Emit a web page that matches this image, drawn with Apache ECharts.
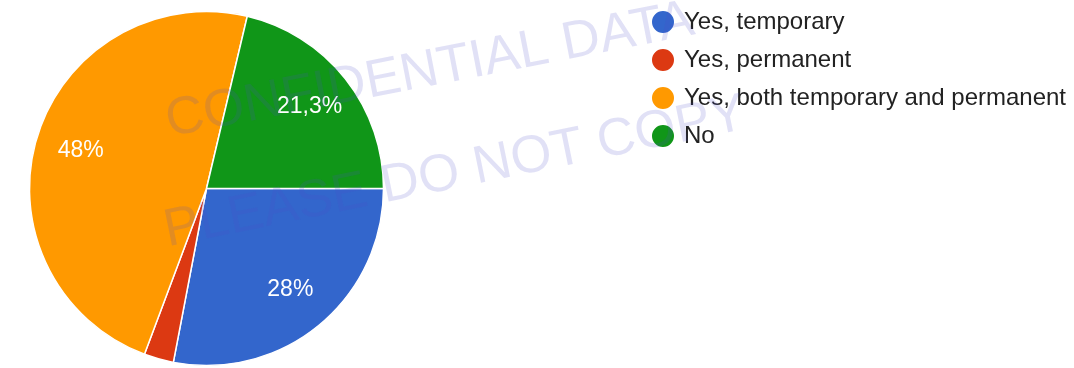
<!DOCTYPE html>
<html>
<head>
<meta charset="utf-8">
<script src="https://cdn.jsdelivr.net/npm/echarts@6/dist/echarts.min.js"></script>
<style>
html,body{margin:0;padding:0;background:#fff;}
#chart{width:1074px;height:368px;}
</style>
</head>
<body>
<div id="chart"></div>
<script>
const categories = ['Yes, temporary', 'Yes, permanent', 'Yes, both temporary and permanent', 'No'];
const values = [28, 2.7, 48, 21.3];
const showLabel = [true, false, true, true];
const colors = ['#3366cc', '#dc3912', '#ff9900', '#109618'];
const watermarkLines = ['CONFIDENTIAL DATA', 'PLEASE DO NOT COPY'];

const FONT = '"Liberation Sans", Arial, Helvetica, sans-serif';
const chart = echarts.init(document.getElementById('chart'), null, {renderer: 'canvas'});

const mainData = categories.map((c, i) => ({name: c, value: values[i], itemStyle: {color: colors[i]}}));
const labelData = categories.map((c, i) => ({name: c, value: values[i], label: {show: showLabel[i]}}));

const option = {
  animation: false,
  legend: {
    orient: 'vertical',
    left: 650,
    top: 9,
    padding: 0,
    icon: 'circle',
    itemWidth: 32,
    itemHeight: 24,
    itemGap: 12,
    selectedMode: false,
    data: categories,
    textStyle: {fontFamily: FONT, fontSize: 24, color: '#222222'}
  },
  series: [
    {
      type: 'pie',
      center: [206.5, 188.5],
      radius: [0, 177],
      startAngle: 0,
      clockwise: true,
      silent: true,
      label: {show: false},
      labelLine: {show: false},
      itemStyle: {borderColor: '#ffffff', borderWidth: 1.5},
      data: mainData,
      z: 2
    },
    {
      type: 'pie',
      center: [206.5, 188.5],
      radius: [80, 177],
      startAngle: 0,
      clockwise: true,
      silent: true,
      itemStyle: {color: 'rgba(0,0,0,0)', borderWidth: 0},
      label: {
        show: true,
        position: 'inside',
        color: '#ffffff',
        fontFamily: FONT,
        fontSize: 23,
        formatter: p => String(p.value).replace('.', ',') + '%'
      },
      labelLine: {show: false},
      data: labelData,
      z: 3
    }
  ],
  graphic: [
    {
      type: 'text',
      x: 430, y: 71,
      rotation: 11 * Math.PI / 180,
      z: 100,
      silent: true,
      style: {
        text: watermarkLines[0],
        fontFamily: FONT,
        fontSize: 53,
        fill: 'rgba(80,80,200,0.17)',
        align: 'center',
        verticalAlign: 'middle'
      }
    },
    {
      type: 'text',
      x: 455, y: 173,
      rotation: 11.5 * Math.PI / 180,
      z: 100,
      silent: true,
      style: {
        text: watermarkLines[1],
        fontFamily: FONT,
        fontSize: 53,
        fill: 'rgba(80,80,200,0.17)',
        align: 'center',
        verticalAlign: 'middle'
      }
    }
  ]
};
chart.setOption(option);
</script>
</body>
</html>
